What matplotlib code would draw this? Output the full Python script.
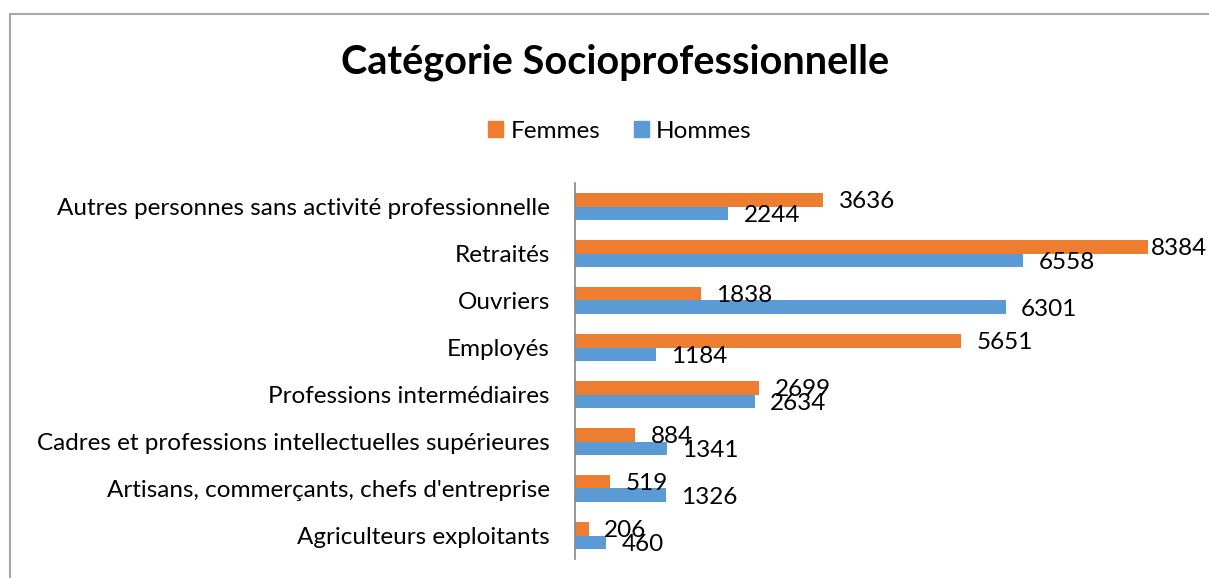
import numpy as np
import matplotlib.pyplot as plt
from matplotlib.patches import Rectangle, Patch

categories = [
    "Agriculteurs exploitants",
    "Artisans, commerçants, chefs d'entreprise",
    "Cadres et professions intellectuelles supérieures",
    "Professions intermédiaires",
    "Employés",
    "Ouvriers",
    "Retraités",
    "Autres personnes sans activité professionnelle",
]
femmes = [206, 519, 884, 2699, 5651, 1838, 8384, 3636]
hommes = [460, 1326, 1341, 2634, 1184, 6301, 6558, 2244]

orange = "#ED7D31"
blue = "#5B9BD5"
plt.rcParams["font.family"] = ["Lato", "DejaVu Sans"]
fs = 17.5

W, H = 1209, 578
fig = plt.figure(figsize=(W / 100, H / 100), dpi=100)

# chart frame (cut off on the right and bottom in the original)
fig.patches.append(Rectangle((10 / W, -0.1), 1.2, (H - 14) / H + 0.1,
                             transform=fig.transFigure, fill=False,
                             edgecolor="#A6A6A6", linewidth=1.5))

ax = fig.add_axes([575 / W, (H - 559) / H, (1190 - 575) / W, (559 - 183) / H])
y = np.arange(len(categories))
h = 0.28
ax.barh(y + h / 2, femmes, height=h, color=orange, label="Femmes")
ax.barh(y - h / 2, hommes, height=h, color=blue, label="Hommes")

ax.set_xlim(0, 9000)
ax.set_ylim(-0.5, len(categories) - 0.5)
ax.set_yticks(y)
ax.set_yticklabels(categories, fontsize=fs)
ax.tick_params(axis="y", length=0, pad=18)
ax.set_xticks([])
for s in ["top", "right", "bottom"]:
    ax.spines[s].set_visible(False)
ax.spines["left"].set_color("#868686")
ax.spines["left"].set_linewidth(1.2)

labels = []
for i in range(len(categories)):
    labels.append(ax.annotate(str(femmes[i]), (femmes[i], y[i] + h / 2), xytext=(11, -1),
                              textcoords="offset points", va="center", ha="left", fontsize=fs))
    labels.append(ax.annotate(str(hommes[i]), (hommes[i], y[i] - h / 2), xytext=(11, -2),
                              textcoords="offset points", va="center", ha="left", fontsize=fs))

fig.text(615 / W, 1 - 62 / H, "Catégorie Socioprofessionnelle", ha="center",
         va="center", fontsize=28.5, fontweight="bold")

handles = [Patch(color=orange), Patch(color=blue)]
fig.legend(handles, ["Femmes", "Hommes"], loc="center", ncol=2,
           bbox_to_anchor=(620 / W, 1 - 131 / H), frameon=False, fontsize=fs,
           handlelength=0.6, handleheight=0.6, handletextpad=0.3,
           columnspacing=1.4)

# pull back any value label that runs past the right edge
fig.canvas.draw()
renderer = fig.canvas.get_renderer()
for t in labels:
    bb = t.get_window_extent(renderer)
    if bb.x1 > W - 1:
        dx, dy = t.xyann
        t.xyann = (dx - (bb.x1 - W + 2) * 72 / 100, dy)

fig.savefig("out.png", dpi=100)
